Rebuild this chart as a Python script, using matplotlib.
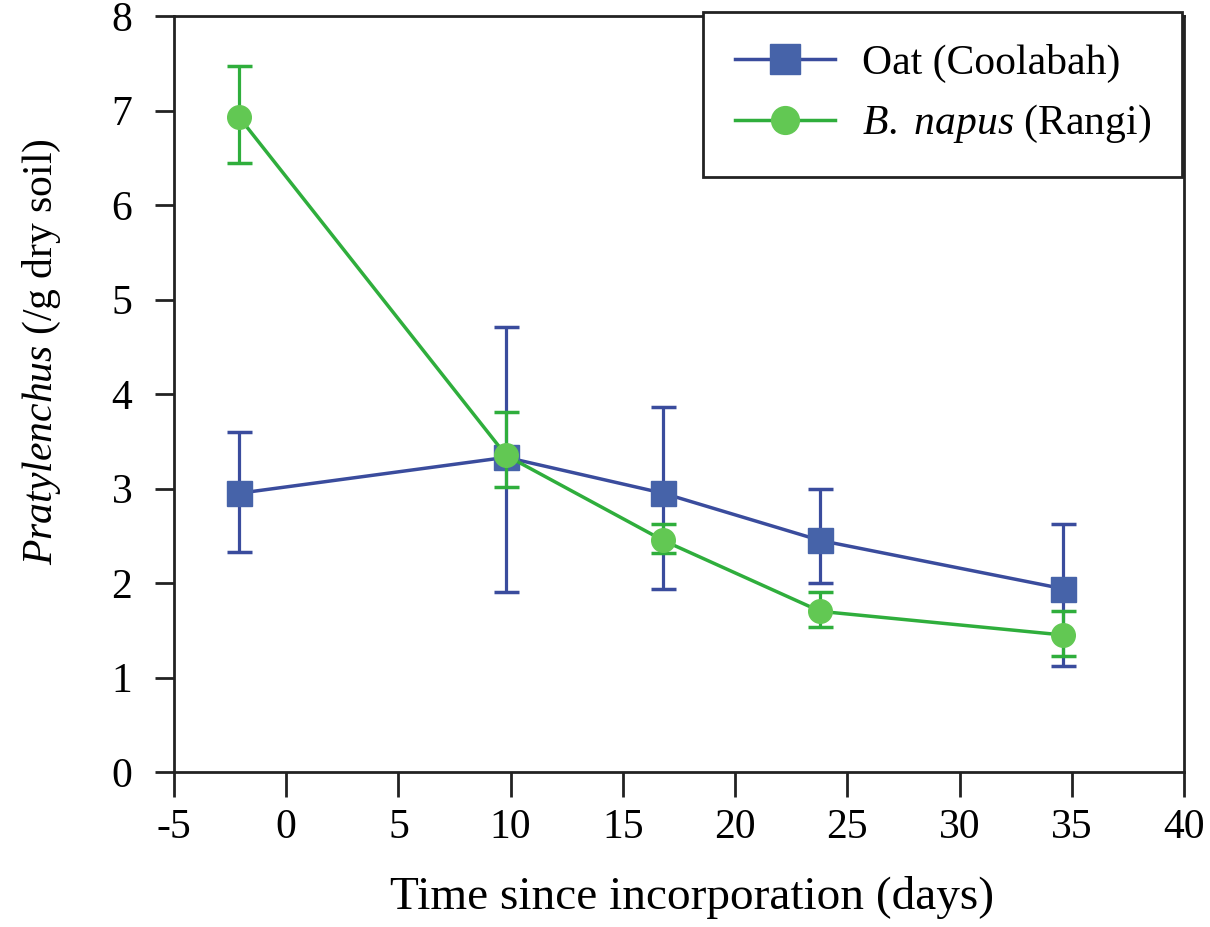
import matplotlib
matplotlib.use("Agg")
import matplotlib.pyplot as plt
from matplotlib.lines import Line2D

# ---- data ----
days_oat = [-2.1, 9.8, 16.8, 23.8, 34.6]
oat_mean = [2.95, 3.33, 2.95, 2.45, 1.94]
oat_err_lo = [0.62, 1.43, 1.01, 0.45, 0.82]
oat_err_hi = [0.65, 1.38, 0.91, 0.55, 0.68]

days_bn = [-2.1, 9.8, 16.8, 23.8, 34.6]
bn_mean = [6.93, 3.35, 2.45, 1.70, 1.45]
bn_err_lo = [0.49, 0.33, 0.13, 0.17, 0.22]
bn_err_hi = [0.54, 0.46, 0.17, 0.20, 0.25]

x_ticks = [-5, 0, 5, 10, 15, 20, 25, 30, 35, 40]
y_ticks = [0, 1, 2, 3, 4, 5, 6, 7, 8]

plt.rcParams["font.family"] = ["Liberation Serif", "DejaVu Serif"]
plt.rcParams["mathtext.fontset"] = "custom"
plt.rcParams["mathtext.rm"] = "Liberation Serif"
plt.rcParams["mathtext.it"] = "Liberation Serif:italic"
plt.rcParams["axes.unicode_minus"] = False

BLUE_LINE = "#3a4c9d"
BLUE_MARK = "#4663a9"
GREEN_LINE = "#2fae3c"
GREEN_MARK = "#62c853"
AX_COL = "#222222"

fig = plt.figure(figsize=(12.1, 9.27), dpi=100)
ax = fig.add_axes([0.1438, 0.1672, 0.8347, 0.8155])

ax.errorbar(days_oat, oat_mean, yerr=[oat_err_lo, oat_err_hi],
            color=BLUE_LINE, lw=2.5, marker="s", ms=18,
            mfc=BLUE_MARK, mec=BLUE_MARK, ecolor=BLUE_LINE,
            elinewidth=2.3, capsize=9, capthick=2.5, zorder=3)
ax.errorbar(days_bn, bn_mean, yerr=[bn_err_lo, bn_err_hi],
            color=GREEN_LINE, lw=2.5, marker="o", ms=17,
            mfc=GREEN_MARK, mec=GREEN_MARK, ecolor=GREEN_LINE,
            elinewidth=2.3, capsize=9, capthick=2.5, zorder=4)

ax.set_xlim(-5, 40)
ax.set_ylim(0, 8)
ax.set_xticks(x_ticks)
ax.set_yticks(y_ticks)
ax.tick_params(axis="x", direction="out", length=18, width=2,
               labelsize=30, pad=8, color=AX_COL)
ax.tick_params(axis="y", direction="out", length=14, width=2,
               labelsize=30, pad=16, color=AX_COL)
for s in ax.spines.values():
    s.set_linewidth(2)
    s.set_color(AX_COL)

ax.set_xlabel("Time since incorporation (days)", fontsize=34)
ax.xaxis.set_label_coords(0.513, -0.138)
ax.set_ylabel(r"$\it{Pratylenchus}$ (/g dry soil)", fontsize=30)
ax.yaxis.set_label_coords(-0.11, 0.556)

handles = [
    Line2D([], [], color=BLUE_LINE, lw=2.5, marker="s", ms=21,
           mfc=BLUE_MARK, mec=BLUE_MARK),
    Line2D([], [], color=GREEN_LINE, lw=2.5, marker="o", ms=20,
           mfc=GREEN_MARK, mec=GREEN_MARK),
]
labels = ["Oat (Coolabah)", r"$\it{B.\ napus}$ (Rangi)"]
leg = ax.legend(handles, labels, loc="upper right",
                bbox_to_anchor=(0.998, 1.005),
                fontsize=30, frameon=True, fancybox=False,
                edgecolor=AX_COL, borderpad=0.75, handlelength=2.4,
                handletextpad=0.65, labelspacing=0.5, borderaxespad=0)
leg.get_frame().set_linewidth(2)
leg.get_frame().set_alpha(1)

fig.savefig("out.png", dpi=100, facecolor="white")
